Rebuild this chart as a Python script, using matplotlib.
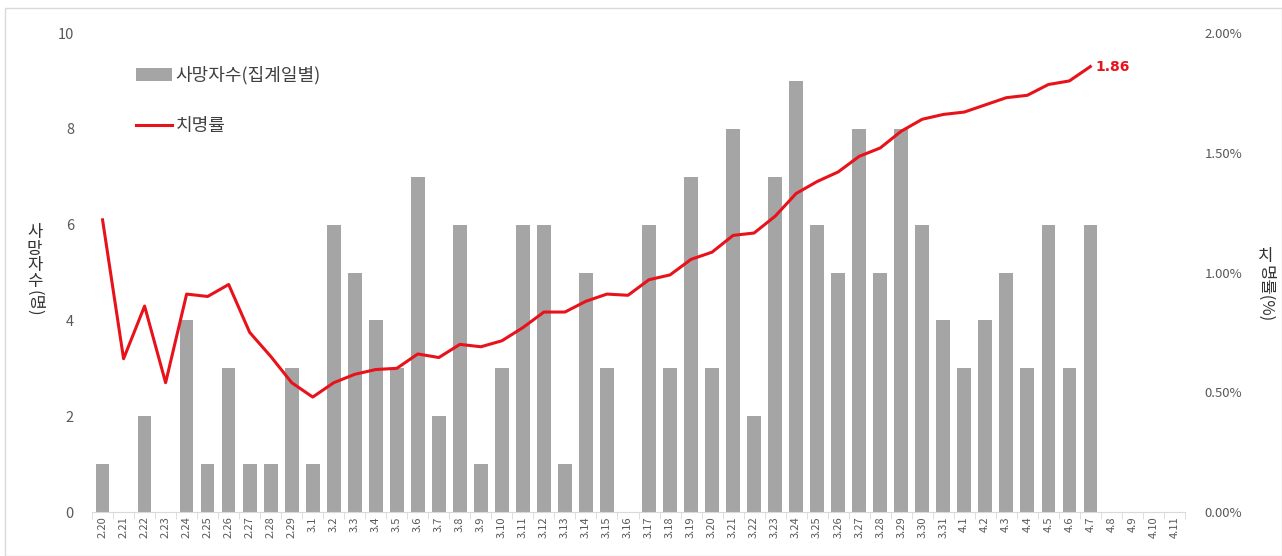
import numpy as np
import matplotlib.pyplot as plt
from matplotlib.patches import Rectangle

plt.rcParams['font.family'] = ['Noto Sans CJK KR', 'DejaVu Sans']

# 날짜 라벨
dates = ([f'2.{d}' for d in range(20, 30)] + [f'3.{d}' for d in range(1, 32)]
         + [f'4.{d}' for d in range(1, 12)])

# 사망자수 (집계일별), 2.20 ~ 4.7
deaths = [1, 0, 2, 0, 4, 1, 3, 1, 1, 3,
          1, 6, 5, 4, 3, 7, 2, 6, 1, 3, 6, 6, 1, 5, 3, 0, 6, 3, 7, 3,
          8, 2, 7, 9, 6, 5, 8, 5, 8, 6, 4,
          3, 4, 5, 3, 6, 3, 6]

# 치명률 (%)
cfr = [1.22, 0.64, 0.86, 0.54, 0.91, 0.90, 0.95, 0.75, 0.65, 0.54,
       0.48, 0.54, 0.575, 0.595, 0.60, 0.66, 0.645, 0.70, 0.69, 0.715,
       0.77, 0.835, 0.835, 0.88, 0.91, 0.905, 0.97, 0.99, 1.055, 1.085,
       1.155, 1.165, 1.235, 1.33, 1.38, 1.42, 1.485, 1.52, 1.59, 1.64,
       1.66, 1.67, 1.70, 1.73, 1.74, 1.785, 1.80, 1.86]

fig = plt.figure(figsize=(12.82, 5.56), dpi=100)
ax = fig.add_axes([0.0718, 0.0791, 0.8525, 0.8615])
ax2 = ax.twinx()

x = np.arange(len(dates))
bars = ax.bar(x[:len(deaths)], deaths, width=0.65, color='#A5A5A5', label='사망자수(집계일별)', zorder=2)
line, = ax2.plot(x[:len(cfr)], cfr, color='#E8121B', lw=2.2, label='치명률', zorder=3)
ax2.annotate(f'{cfr[-1]:.2f}', (x[len(cfr) - 1], cfr[-1]), xytext=(4, 0), textcoords='offset points',
             color='#E8121B', fontweight='bold', fontsize=10, va='center', ha='left', family='DejaVu Sans')

ax.set_xlim(-0.5, len(dates) - 0.5)
ax.set_ylim(0, 10)
ax.set_yticks([0, 2, 4, 6, 8, 10])
ax2.set_ylim(0, 2.0)
ax2.set_yticks([0, 0.5, 1.0, 1.5, 2.0])
ax2.set_yticklabels([f'{v:.2f}%' for v in [0, 0.5, 1.0, 1.5, 2.0]])

ax.set_xticks(x)
ax.set_xticklabels(dates, rotation=90, fontsize=8, color='#595959')
ax.set_xticks(np.arange(-0.5, len(dates), 1), minor=True)
ax.tick_params(axis='x', which='major', length=0, pad=3)
ax.tick_params(axis='x', which='minor', length=5, color='#D9D9D9')
ax.tick_params(axis='y', length=0, labelsize=10.5, labelcolor='#595959', pad=13)
ax2.tick_params(axis='y', length=0, labelsize=9.5, labelcolor='#595959', pad=14)

for a in (ax, ax2):
    for s in ['top', 'left', 'right']:
        a.spines[s].set_visible(False)
ax.spines['bottom'].set_color('#D9D9D9')
ax2.spines['bottom'].set_visible(False)

# 축 제목 (세로쓰기)
fig.text(0.027, 0.478, '사\n망\n자\n수', ha='center', va='bottom', fontsize=12, color='#333333', linespacing=0.95)
fig.text(0.027, 0.478, '(명)', ha='center', va='top', rotation=-90, fontsize=12, color='#333333')
fig.text(0.987, 0.523, '치', ha='center', va='bottom', fontsize=12, color='#333333')
fig.text(0.987, 0.523, '명률(%)', ha='center', va='top', rotation=-90, fontsize=12, color='#333333')

leg = ax.legend(handles=[bars, line], loc='upper left', bbox_to_anchor=(0.025, 0.965), frameon=False,
                fontsize=13, handlelength=2.0, handletextpad=0.2, labelspacing=1.8, labelcolor='#404040')

fig.patches.append(Rectangle((0.004, 0.0), 0.996, 0.985, transform=fig.transFigure,
                             fill=False, edgecolor='#D9D9D9', lw=1))

fig.savefig('out.png', dpi=100)
